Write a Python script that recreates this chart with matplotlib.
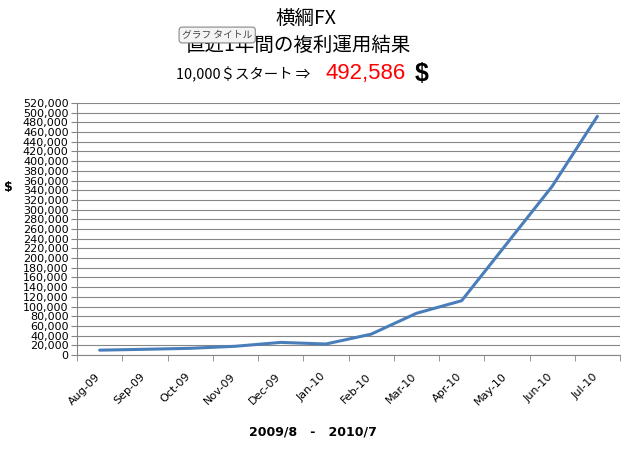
import matplotlib
matplotlib.use('Agg')
import matplotlib.pyplot as plt
import matplotlib.transforms as mtransforms
from matplotlib.ticker import MultipleLocator, FuncFormatter
import numpy as np

plt.rcParams['font.family'] = ['DejaVu Sans', 'Noto Sans CJK JP']

# ---------------------------------
# data
# ---------------------------------
months = ['Aug-09', 'Sep-09', 'Oct-09', 'Nov-09', 'Dec-09', 'Jan-10',
          'Feb-10', 'Mar-10', 'Apr-10', 'May-10', 'Jun-10', 'Jul-10']
balance = [10000, 11800, 13800, 18000, 26000, 22700,
           43000, 86000, 112000, 230000, 348000, 492586]
y_max = 520000
y_step = 20000

jp = ['Noto Sans CJK JP', 'DejaVu Sans']
W, H = 634, 454

fig = plt.figure(figsize=(W / 100, H / 100), dpi=100)
ax = fig.add_axes([77 / W, 1 - 355 / H, 543 / W, 252 / H])

x = np.arange(len(months))
ax.plot(x, balance, color='#4a7ebb', lw=2.2, solid_capstyle='round', zorder=3)

ax.set_xlim(-0.5, len(months) - 0.5)
ax.set_ylim(0, y_max)
ax.yaxis.set_major_locator(MultipleLocator(y_step))
ax.yaxis.set_major_formatter(FuncFormatter(lambda v, p: f'{int(v):,}'))
ax.grid(axis='y', color='#868686', lw=0.8)
ax.set_axisbelow(True)

ax.set_xticks(x)
ax.set_xticklabels(months, rotation=45, ha='right', rotation_mode='anchor')
ax.set_xticks(np.arange(-0.5, len(months)), minor=True)
ax.tick_params(axis='x', which='major', length=0, pad=6, labelsize=8)
ax.tick_params(axis='x', which='minor', length=4, color='#868686')
ax.tick_params(axis='y', length=4, color='#868686', labelsize=8, pad=2)

# nudge the rotated month labels down/left like excel places them
shift = mtransforms.ScaledTranslation(-5 / 100, -8 / 100, fig.dpi_scale_trans)
for lab in ax.get_xticklabels():
    lab.set_transform(lab.get_transform() + shift)

for s in ['top', 'right']:
    ax.spines[s].set_visible(False)
for s in ['left', 'bottom']:
    ax.spines[s].set_color('#868686')
    ax.spines[s].set_linewidth(0.8)

# axis titles
fig.text(8 / W, 1 - 188 / H, '$', fontsize=9, fontweight='bold', ha='center', va='center')
fig.text(313 / W, 1 - 432 / H, '2009/8   -   2010/7', fontsize=9, fontweight='bold',
         ha='center', va='center')

# chart title
fig.text(306 / W, 1 - 18 / H, '横綱FX', family=jp, fontsize=14, ha='center', va='center')
fig.text(298 / W, 1 - 45 / H, '直近1年間の複利運用結果', family=jp, fontsize=14,
         ha='center', va='center')
fig.text(176 / W, 1 - 75 / H, '10,000＄スタート ⇒', family=jp, fontsize=10.4,
         ha='left', va='center')
fig.text(325 / W, 1 - 74 / H, '492,586', family=['Liberation Sans'], fontsize=16,
         color='#ff0000', ha='left', va='center')
fig.text(415 / W, 1 - 74 / H, '$', family=['Liberation Sans'], fontsize=18,
         fontweight='bold', ha='left', va='center')

# excel tooltip left in the screenshot
fig.text(182 / W, 1 - 35 / H, 'グラフ タイトル', family=jp, fontsize=7, color='#444444',
         ha='left', va='center', zorder=5,
         bbox=dict(boxstyle='round,pad=0.3', fc='#f4f4f4', ec='#888888', lw=0.8))

plt.savefig('out.png', dpi=100)
